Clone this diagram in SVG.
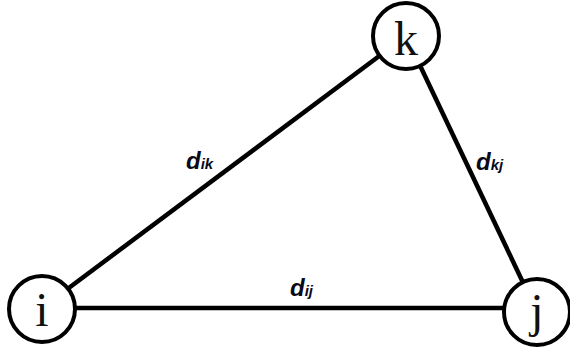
<svg xmlns="http://www.w3.org/2000/svg" width="570" height="347" viewBox="0 0 570 347">
<style>
.edge{stroke:#000;stroke-width:4.5;fill:none}
.node circle{fill:#fff;stroke:#000;stroke-width:4}
.node text{font-family:"Liberation Serif","DejaVu Serif",serif;font-size:48px;text-anchor:middle;fill:#111}
.lbl{font-family:"Liberation Sans",Arial,sans-serif;font-style:italic;fill:#0a0a1a}
.d{font-weight:bold;font-size:24px}
.s{font-size:15px;font-weight:bold}
</style>
<rect width="570" height="347" fill="#fff"/>
<g id="connectors">
<line class="edge" x1="42" y1="308" x2="537" y2="308"/>
<line class="edge" x1="42" y1="308" x2="406" y2="36"/>
<line class="edge" x1="406" y1="36" x2="537" y2="312"/>
</g>
<g id="node-i" class="node"><circle cx="42" cy="309" r="33"/><text x="42" y="326">i</text></g>
<g id="node-k" class="node"><circle cx="406" cy="36" r="33"/><text x="406" y="55">k</text></g>
<g id="node-j" class="node"><circle cx="537" cy="312" r="33"/><text x="537" y="327">j</text></g>
<g id="labels">
<text class="lbl" x="186" y="169"><tspan class="d">d</tspan><tspan class="s">ik</tspan></text>
<text class="lbl" x="476" y="170"><tspan class="d">d</tspan><tspan class="s">kj</tspan></text>
<text class="lbl" x="290" y="296"><tspan class="d">d</tspan><tspan class="s">ij</tspan></text>
</g>
</svg>
